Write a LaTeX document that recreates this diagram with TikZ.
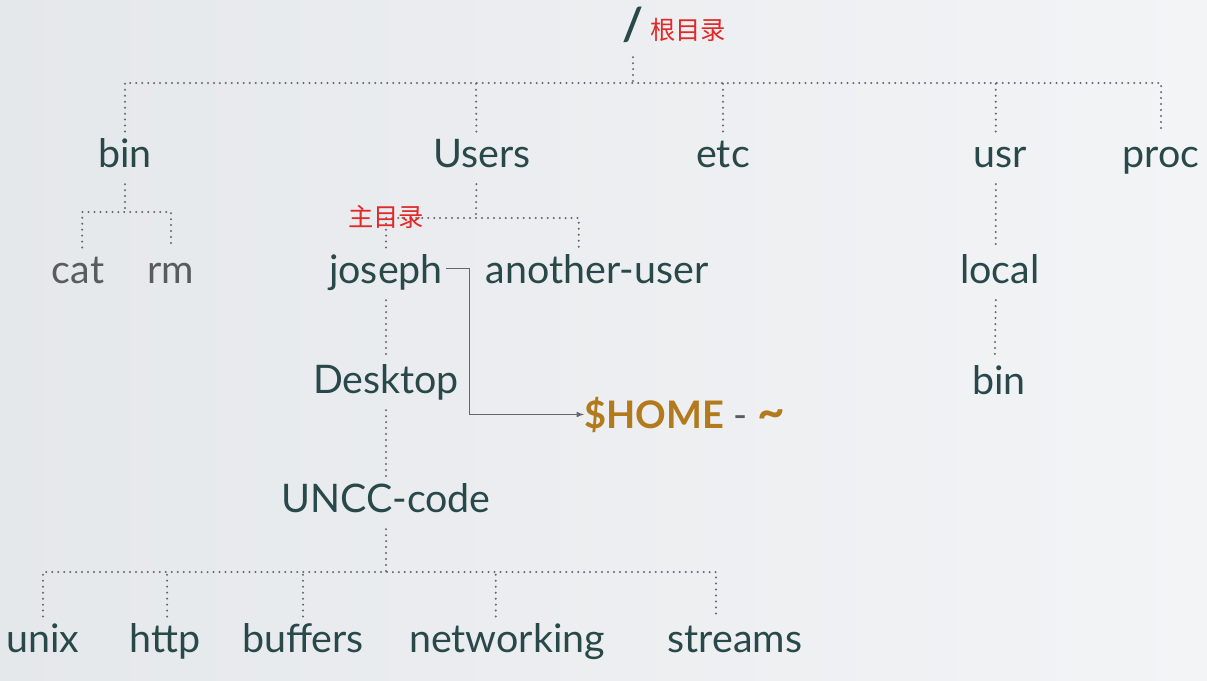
\documentclass[tikz,border=0pt]{standalone}
\usepackage{fontspec}
\setmainfont{Lato}
\newfontfamily\cjkfont{Noto Sans CJK SC}
\usetikzlibrary{arrows}

\definecolor{dirtext}{RGB}{40,72,74}
\definecolor{filetext}{RGB}{88,92,94}
\definecolor{dotline}{RGB}{100,104,108}
\definecolor{homegold}{RGB}{178,122,28}
\definecolor{notered}{RGB}{226,40,40}
\definecolor{bgleft}{RGB}{229,232,235}
\definecolor{bgright}{RGB}{243,244,246}

\tikzset{
	dir/.style={anchor=base, text=dirtext, font=\fontsize{28}{32}\selectfont,
		text height=20pt, text depth=7pt, inner xsep=2pt, inner ysep=5pt},
	file/.style={dir, text=filetext},
	note/.style={anchor=west, text=notered, font=\cjkfont\fontsize{18}{20}\selectfont, inner sep=0pt},
	tree/.style={draw=dotline, line width=1.6pt, line cap=round, dash pattern=on 0pt off 4.25pt},
	homeline/.style={draw=dotline, line width=0.8pt, >=latex}
}

\begin{document}
\begin{tikzpicture}[x=0.025cm, y=-0.025cm]
	\fill[left color=bgleft, right color=bgright] (0,0) rectangle (1207,680);
	\useasboundingbox (0,0) rectangle (1207,680);
	%
	\node[dir, font=\bfseries\fontsize{32}{34}\selectfont] (root) at (633,40) {/};
	\node[dir] (bin) at (125,167) {bin};
	\node[dir] (Users) at (482,167) {Users};
	\node[dir] (etc) at (723,167) {etc};
	\node[dir] (usr) at (1000,167) {usr};
	\node[dir] (proc) at (1161,167) {proc};
	\node[file] (cat) at (78,283) {cat};
	\node[file] (rm) at (171,283) {rm};
	\node[dir] (joseph) at (386,283) {joseph};
	\node[dir] (another) at (597,283) {another-user};
	\node[dir] (local) at (1000,283) {local};
	\node[dir] (usrbin) at (999,394) {bin};
	\node[dir] (Desktop) at (386,393) {Desktop};
	\node[dir] (uncc) at (386,512) {UNCC-code};
	\node[dir] (unix) at (43,652) {unix};
	\node[dir] (http) at (165,652) {http};
	\node[dir] (buffers) at (303,652) {buffers};
	\node[dir] (networking) at (507,652) {networking};
	\node[dir] (streams) at (735,652) {streams};
	\node[anchor=base west, inner sep=0pt, font=\fontsize{27}{30}\selectfont] (home) at (584,428)
		{\textcolor{homegold}{\bfseries\$HOME} \textcolor{filetext}{-} \textcolor{homegold}{\bfseries\fontsize{34}{34}\selectfont\textasciitilde}};
	%
	\coordinate (rootj) at (633,83);
	\coordinate (binj) at (125,212);
	\coordinate (usersj) at (476,218);
	\coordinate (unccj) at (386,572);
	%
	\draw[tree] (root) -- (rootj);
	\draw[tree] (bin) |- (rootj) -| (proc);
	\draw[tree] ([xshift=-4pt]Users.north) -- (usersj |- rootj);
	\draw[tree] (etc) -- (etc |- rootj);
	\draw[tree] ([xshift=-3pt]usr.north) -- ([xshift=-3pt]usr |- rootj);
	\draw[tree] (bin) -- (binj);
	\draw[tree] ([xshift=3pt]cat.north) |- (binj) -| (rm);
	\draw[tree] ([xshift=-4pt]Users.south) -- (usersj);
	\draw[tree] (joseph) |- (usersj) -| ([xshift=-13pt]another.north);
	\draw[tree] (joseph) -- (Desktop);
	\draw[tree] (Desktop) -- (uncc);
	\draw[tree] ([xshift=-3pt]usr.south) -- ([xshift=-3pt]local.north);
	\draw[tree] ([xshift=-3pt]local.south) -- ([xshift=-3pt]usrbin.north);
	\draw[tree] (uncc) -- (unccj);
	\draw[tree] (unix) |- (unccj) -| ([xshift=-13.5pt]streams.north);
	\draw[tree] ([xshift=1.5pt]http.north) -- ([xshift=1.5pt]http.north |- unccj);
	\draw[tree] (buffers) -- (buffers |- unccj);
	\draw[tree] ([xshift=-8pt]networking.north) -- ([xshift=-8pt]networking.north |- unccj);
	%
	\draw[homeline,->] ([yshift=4pt]joseph.east) -- ++(24,0) |- (home.west);
	%
	\node[note] (rootnote) at (650,30) {根目录};
	\node[note] (homenote) at (348,217) {主目录};
\end{tikzpicture}
\end{document}
